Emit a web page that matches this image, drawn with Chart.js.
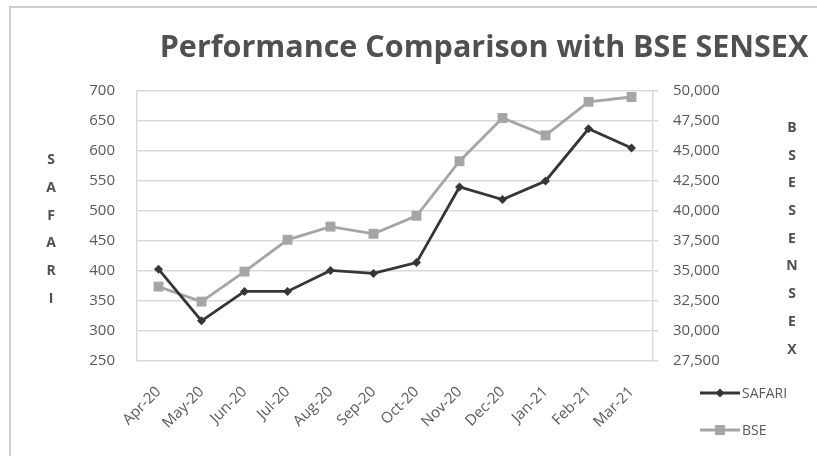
<!DOCTYPE html>
<html>
<head>
<meta charset="utf-8">
<script src="https://cdn.jsdelivr.net/npm/chart.js"></script>
<style>
  body { margin: 0; background: #fff; }
  canvas { display: block; }
</style>
</head>
<body>
<canvas id="perfChart" width="817" height="456"></canvas>
<script>
// data
var months = ['Apr-20', 'May-20', 'Jun-20', 'Jul-20', 'Aug-20', 'Sep-20', 'Oct-20', 'Nov-20', 'Dec-20', 'Jan-21', 'Feb-21', 'Mar-21'];
var safari = [403, 317, 366, 366, 401, 396, 414, 540, 519, 550, 637, 605];
var bse = [33700, 32450, 34950, 37600, 38700, 38100, 39600, 44150, 47750, 46300, 49100, 49500];
var safariTicks = { min: 250, max: 700, step: 50 };
var bseTicks = { min: 27500, max: 50000, step: 2500 };

var chartTitle = 'Performance Comparison with BSE SENSEX';
var leftTitle = 'SAFARI';
var rightTitle = 'BSESENSEX';

var textColor = '#595959';
var gridColor = '#d9d9d9';
var font = "'Open Sans', sans-serif";

// title, stacked axis titles, frame and legend
var extras = {
    id: 'extras',
    beforeDraw: function(chart) {
        var ctx = chart.ctx;
        ctx.save();
        ctx.fillStyle = '#fff';
        ctx.fillRect(0, 0, chart.width, chart.height);
        ctx.strokeStyle = '#cfcfcf';
        ctx.lineWidth = 2;
        ctx.beginPath();
        ctx.moveTo(10, chart.height);
        ctx.lineTo(10, 7);
        ctx.lineTo(chart.width, 7);
        ctx.stroke();
        ctx.restore();
    },
    afterDraw: function(chart) {
        var ctx = chart.ctx;
        ctx.save();
        ctx.fillStyle = '#505050';
        ctx.textAlign = 'center';
        ctx.textBaseline = 'alphabetic';
        ctx.font = 'bold 30.5px ' + font;
        ctx.fillText(chartTitle, 484, 57);

        ctx.font = 'bold 14px ' + font;
        ctx.textBaseline = 'middle';
        for (var i = 0; i < leftTitle.length; i++) {
            ctx.fillText(leftTitle[i], 51, 160 + i * 27.8);
        }
        for (var j = 0; j < rightTitle.length; j++) {
            ctx.fillText(rightTitle[j], 792, 128 + j * 27.7);
        }

        // legend
        ctx.font = '14px ' + font;
        ctx.textAlign = 'left';
        chart.data.datasets.forEach(function(ds, k) {
            var y = 393 + k * 37;
            ctx.strokeStyle = ds.borderColor;
            ctx.lineWidth = ds.borderWidth;
            ctx.beginPath();
            ctx.moveTo(700, y);
            ctx.lineTo(740, y);
            ctx.stroke();
            ctx.fillStyle = ds.pointBackgroundColor;
            Chart.helpers.drawPoint(ctx, {
                pointStyle: ds.pointStyle,
                radius: ds.pointRadius,
                borderWidth: 0
            }, 720, y);
            ctx.fillStyle = textColor;
            ctx.fillText(ds.label, 742, y + 1);
        });
        ctx.restore();
    }
};

var ctx = document.getElementById('perfChart').getContext('2d');
var perfChart = new Chart(ctx, {
    type: 'line',
    data: {
        labels: months,
        datasets: [{
            label: 'SAFARI',
            data: safari,
            yAxisID: 'y',
            borderColor: '#363636',
            backgroundColor: '#363636',
            pointBackgroundColor: '#363636',
            pointBorderColor: '#363636',
            borderWidth: 2.8,
            pointStyle: 'rectRot',
            pointRadius: 4.5,
            pointBorderWidth: 0,
            tension: 0
        }, {
            label: 'BSE',
            data: bse,
            yAxisID: 'y2',
            borderColor: '#a5a5a5',
            backgroundColor: '#a5a5a5',
            pointBackgroundColor: '#a5a5a5',
            pointBorderColor: '#a5a5a5',
            borderWidth: 2.8,
            pointStyle: 'rect',
            pointRadius: 7,
            pointBorderWidth: 0,
            tension: 0
        }]
    },
    options: {
        responsive: false,
        animation: false,
        layout: { padding: { top: 91, left: 0, right: 0, bottom: 0 } },
        plugins: {
            legend: { display: false },
            title: { display: false },
            tooltip: { enabled: false }
        },
        scales: {
            x: {
                offset: true,
                grid: { display: false, drawTicks: false },
                border: { display: false },
                ticks: {
                    color: textColor,
                    font: { family: font, size: 15 },
                    minRotation: 45,
                    maxRotation: 45,
                    autoSkip: false,
                    padding: 22
                },
                afterFit: function(scale) { scale.height = 95; }
            },
            y: {
                position: 'left',
                min: safariTicks.min,
                max: safariTicks.max,
                grid: { color: gridColor, lineWidth: 1.5, drawTicks: false },
                border: { display: true, color: gridColor, width: 1.5 },
                ticks: {
                    stepSize: safariTicks.step,
                    color: textColor,
                    font: { family: font, size: 15 },
                    padding: 22
                },
                afterFit: function(scale) { scale.width = 137; }
            },
            y2: {
                position: 'right',
                min: bseTicks.min,
                max: bseTicks.max,
                grid: { drawOnChartArea: false, color: gridColor, lineWidth: 1.5, tickLength: 5 },
                border: { display: true, color: gridColor, width: 1.5 },
                ticks: {
                    stepSize: bseTicks.step,
                    color: textColor,
                    font: { family: font, size: 15 },
                    padding: 15
                },
                afterFit: function(scale) { scale.width = 164; }
            }
        }
    },
    plugins: [extras]
});
</script>
</body>
</html>
